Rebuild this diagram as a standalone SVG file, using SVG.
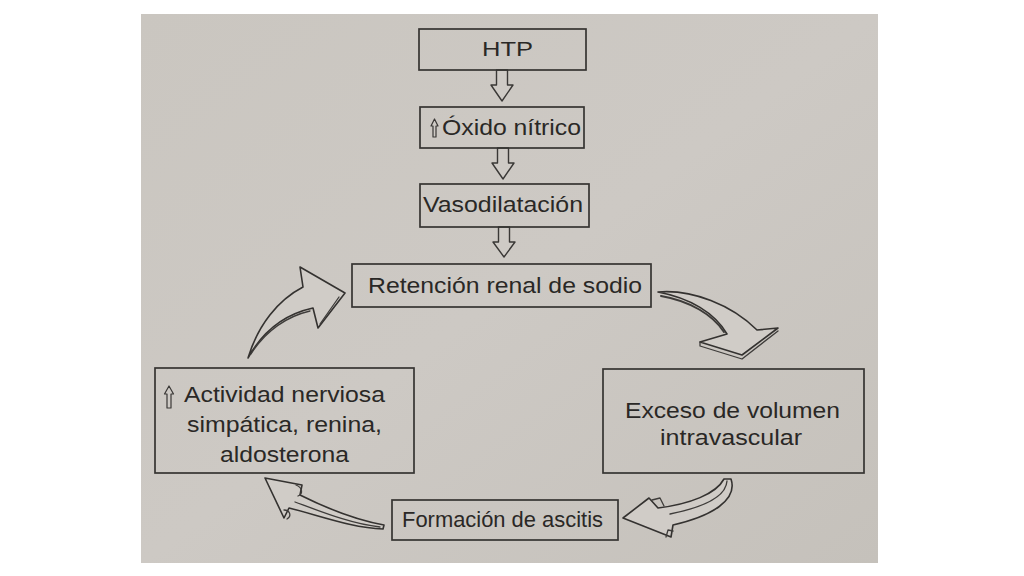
<svg xmlns="http://www.w3.org/2000/svg" width="1024" height="576" viewBox="0 0 1024 576">
<defs>
<style>
.box{fill:none;stroke:#363432;stroke-width:1.7}
.t{font-family:"Liberation Sans",Arial,sans-serif;font-size:22px;fill:#2a2826}
.harrow{fill:#ceCAC5;stroke:#3a3836;stroke-width:1.4;stroke-linejoin:round}
.carrow{fill:#d0ccc7;stroke:#343230;stroke-width:1.6;stroke-linejoin:round}
.depth{fill:none;stroke:#3e3c3a;stroke-width:1.3;stroke-linecap:round;stroke-linejoin:round}
.up{fill:#ceCAC5;stroke:#3a3836;stroke-width:1.2;stroke-linejoin:round}
</style>
<linearGradient id="bg" x1="0" y1="0" x2="1" y2="1">
<stop offset="0" stop-color="#cac6c0"/>
<stop offset="0.5" stop-color="#cdc9c4"/>
<stop offset="1" stop-color="#c5c1bb"/>
</linearGradient>
</defs>
<rect x="0" y="0" width="1024" height="576" fill="#ffffff"/>
<rect x="141" y="14" width="737" height="549" fill="url(#bg)"/>

<g id="connectors">
<polygon class="harrow" points="496.5,70 507.5,70 507.5,85 513,85 502,101 491,85 496.5,85"/>
<polygon class="harrow" points="497.5,148 508.5,148 508.5,163 514,163 503,179 492,163 497.5,163"/>
<polygon class="harrow" points="498.5,227 509.5,227 509.5,242 515,242 504,257 493,242 498.5,242"/>

<g id="arrow-actividad-retencion">
<path class="carrow" d="M248 358 C258 325 278 300 303 287 L300 267 L345 293 L318 328 L313 308 C290 313 265 327 248 358 Z"/>
<path class="depth" d="M251 354 C266 330 288 316 310 311"/>
<path class="depth" d="M339 297 L320 324"/>
</g>

<g id="arrow-retencion-exceso">
<path class="carrow" d="M658 292 C692 289 732 305 757 330 L778 328 L742 355 L700 342 L727 334 C715 313 690 298 658 292 Z"/>
<path class="depth" d="M661 296 C690 301 713 315 724 332" style="stroke-width:2"/>
<path class="depth" d="M700 342 L700 346 L742 359 L778 331"/>
</g>

<g id="arrow-exceso-formacion">
<path class="carrow" d="M731 479 C738 500 712 516 673 525 L671 537 L623 518 L649 498 L658 508 C690 504 716 494 724 479 Z"/>
<path class="depth" d="M727 481 C726 496 705 507 670 514"/>
<path class="depth" d="M652 500 L660 498 L664 506"/>
<path class="depth" d="M666 537 L668 530 L673 531"/>
</g>

<g id="arrow-formacion-actividad">
<path class="carrow" d="M383 529 C352 528 318 515 289 508 L284 518 L265 478 L302 485 L300 495 C326 508 356 520 384 525 Z"/>
<path class="depth" d="M380 527 C352 524 322 512 295 502"/>
<path class="depth" d="M296 485 C303 488 303 494 298 496"/>
<path class="depth" d="M284 510 C290 510 292 516 287 519"/>
</g>
</g>

<g id="n-htp">
<rect class="box" x="419" y="29" width="167" height="41"/>
<text class="t" x="482" y="56" textLength="51" lengthAdjust="spacingAndGlyphs" style="font-size:20px">HTP</text>
</g>

<g id="n-oxido">
<rect class="box" x="420" y="107" width="164" height="41"/>
<polygon class="up" points="434.5,119 438,126 436,126 436,137 433,137 433,126 431,126"/>
<text class="t" x="442" y="135" textLength="139" lengthAdjust="spacingAndGlyphs">Óxido nítrico</text>
</g>

<g id="n-vaso">
<rect class="box" x="420" y="184" width="169" height="43"/>
<text class="t" x="423" y="212" textLength="160" lengthAdjust="spacingAndGlyphs">Vasodilatación</text>
</g>

<g id="n-retencion">
<rect class="box" x="352" y="264" width="299" height="43"/>
<text class="t" x="368" y="293" textLength="274" lengthAdjust="spacingAndGlyphs">Retención renal de sodio</text>
</g>

<g id="n-actividad">
<rect class="box" x="155" y="368" width="259" height="105"/>
<polygon class="up" points="169,386 173.5,394 171,394 171,408 167,408 167,394 164.5,394"/>
<text class="t" x="184" y="402" textLength="201" lengthAdjust="spacingAndGlyphs">Actividad nerviosa</text>
<text class="t" x="187" y="432" textLength="195" lengthAdjust="spacingAndGlyphs">simpática, renina,</text>
<text class="t" x="220" y="462" textLength="129" lengthAdjust="spacingAndGlyphs">aldosterona</text>
</g>

<g id="n-exceso">
<rect class="box" x="603" y="369" width="261" height="104"/>
<text class="t" x="625" y="418" textLength="215" lengthAdjust="spacingAndGlyphs">Exceso de volumen</text>
<text class="t" x="660" y="445" textLength="142" lengthAdjust="spacingAndGlyphs">intravascular</text>
</g>

<g id="n-formacion">
<rect class="box" x="392" y="500" width="226" height="40"/>
<text class="t" x="402" y="527" textLength="201" lengthAdjust="spacingAndGlyphs">Formación de ascitis</text>
</g>
</svg>
